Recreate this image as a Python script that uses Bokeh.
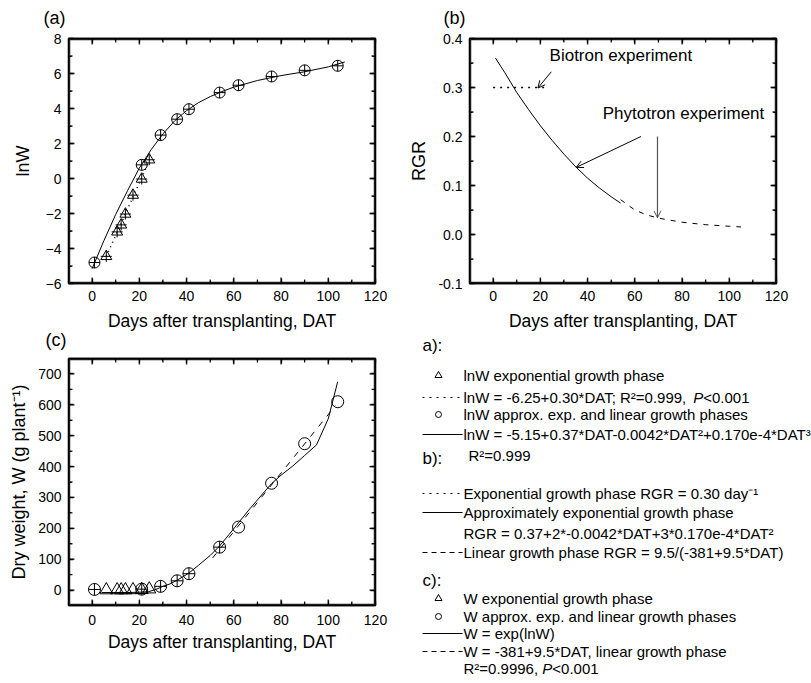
import math
from bokeh.plotting import figure
from bokeh.layouts import row, column
from bokeh.models import (Range1d, LinearAxis, SingleIntervalTicker, NumeralTickFormatter,
                          Arrow, OpenHead, Label)
from bokeh.embed import file_html
from bokeh.resources import INLINE
from bokeh.core.properties import value

FONT = "Liberation Sans"

# ---------------- data ----------------
# (a) lnW vs DAT
tri_dat = [6, 10.6, 12.3, 14.1, 17.3, 21, 24.2]
tri_lnw = [-4.45, -3.05, -2.65, -2.03, -0.95, -0.03, 1.07]
circ_dat = [1, 21, 29, 36, 41, 54, 62, 76, 90, 104]
circ_lnw = [-4.8, 0.78, 2.48, 3.39, 3.96, 4.91, 5.33, 5.83, 6.18, 6.44]
expfit_dat = [6, 24]
expfit_lnw = [-4.45, 0.95]
polyfit_dat = [0, 5, 10, 15, 20, 25, 30, 35, 40, 45, 50, 55, 60, 70, 80, 90, 100, 107]
polyfit_lnw = [-5.15, -3.55, -2.05, -0.7, 0.6, 1.65, 2.55, 3.3, 3.88, 4.33, 4.68, 4.97,
               5.22, 5.6, 5.88, 6.1, 6.38, 6.66]

# (b) RGR vs DAT
rgr_exp_dat = [0, 22.8]
rgr_exp = [0.30, 0.30]
rgr_poly_dat = [1, 5, 10, 15, 20, 25, 30, 35, 40, 45, 50, 54]
rgr_poly = [0.36, 0.33, 0.29, 0.255, 0.222, 0.192, 0.164, 0.138, 0.115, 0.095, 0.077, 0.064]
rgr_lin_dat = [54, 60, 65, 70, 80, 90, 100, 105]
rgr_lin = [0.071, 0.050, 0.040, 0.0334, 0.025, 0.020, 0.0168, 0.0154]

# (c) W vs DAT
w_tri = [0.01, 0.05, 0.07, 0.13, 0.39, 0.97, 2.9]
w_circ = [2, 3, 12, 30, 53, 139, 204, 346, 474, 610]
n_circ_with_bars = 6
wexp_dat = [4, 10, 15, 20, 24, 27, 30, 33, 36, 41, 45, 50, 54, 58, 62, 66, 70, 76, 80,
            85, 90, 95, 100, 104]
wexp = [-8, -8, -8, -7, -5, 2, 12, 20, 32, 55, 80, 112, 143, 180, 218, 256, 292, 345,
        372, 402, 436, 470, 555, 675]
wlin_dat = [51, 103]
wlin = [104, 597]

# annotations of (b)
biotron_text = "Biotron experiment"
phytotron_text = "Phytotron experiment"

# legend texts: (plain prefix, italic part, plain suffix)
legend_headers = ["a):", "b):", "c):"]
legend_kinds = ["triangle", "dot", "circle", "solid", "none",
                "dot", "solid", "none", "dash",
                "triangle", "circle", "solid", "dash", "none"]
legend_texts = [
    ("lnW exponential growth phase", "", ""),
    ("lnW = -6.25+0.30*DAT; R\u00b2=0.999, ", "P", "<0.001"),
    ("lnW approx. exp. and linear growth phases", "", ""),
    ("lnW = -5.15+0.37*DAT-0.0042*DAT\u00b2+0.170e-4*DAT\u00b3", "", ""),
    ("R\u00b2=0.999", "", ""),
    ("Exponential growth phase RGR = 0.30 day\u207b\u00b9", "", ""),
    ("Approximately exponential growth phase", "", ""),
    ("RGR = 0.37+2*-0.0042*DAT+3*0.170e-4*DAT\u00b2", "", ""),
    ("Linear growth phase RGR = 9.5/(-381+9.5*DAT)", "", ""),
    ("W exponential growth phase", "", ""),
    ("W approx. exp. and linear growth phases", "", ""),
    ("W = exp(lnW)", "", ""),
    ("W = -381+9.5*DAT, linear growth phase", "", ""),
    ("R\u00b2=0.9996, ", "P", "<0.001"),
]

# ---------------- layout / styles ----------------
LEG_FS = 15.0
legend_header_y = [15, 128, 250]
legend_row_y = [45, 67, 84, 104, 125, 163, 182, 203, 222, 268, 286, 303, 321, 338]
legend_row_indent = [0, 0, 0, 0, 5, 0, 0, 0, 0, 0, 0, 0, 0, 0]
# Arial / Liberation Sans advance widths (1/1000 em), for placing the italic P
ADV = {" ": 278, "=": 584, "-": 333, ".": 278, "+": 584, "*": 389, ";": 278, ",": 278,
       "\u00b2": 333, "l": 222, "n": 556, "W": 944, "D": 722, "A": 667, "T": 611,
       "R": 722, "P": 667}

TOP_SHIFT = 8        # top row starts 8 px above the page
BOTTOM_START = 314   # page y where the bottom row starts
TOP_H = 346
BOT_H = 369


def text_width(s, size):
    return sum(ADV.get(ch, 556) for ch in s) * size / 1000.0


def tick_values(lo, hi, step):
    n0 = math.ceil(lo / step - 1e-9)
    n1 = math.floor(hi / step + 1e-9)
    return [round(k * step, 10) for k in range(n0, n1 + 1)]


def style_axis(ax, show_labels=True):
    ax.major_tick_in = 5
    ax.major_tick_out = 0
    ax.minor_tick_in = 3
    ax.minor_tick_out = 0
    ax.axis_line_color = "black"
    ax.axis_line_width = 1.3
    ax.major_tick_line_color = "black"
    ax.major_tick_line_width = 1.3
    ax.minor_tick_line_color = "black"
    ax.minor_tick_line_width = 1.1
    ax.axis_label_text_font = FONT
    ax.axis_label_text_font_style = "normal"
    ax.axis_label_text_font_size = "18px"
    ax.axis_label_text_color = "black"
    ax.major_label_text_font = FONT
    ax.major_label_text_font_size = "14px" if show_labels else "1px"
    ax.major_label_text_color = "black" if show_labels else None
    if not show_labels:
        ax.major_label_standoff = 0


def add_frame_box(p, xr, yr, xstep, ystep, fw, fh):
    # frame box and inward ticks, kept just inside the frame edges
    ux = (xr[1] - xr[0]) / fw
    uy = (yr[1] - yr[0]) / fh
    p.quad(left=[xr[0] + 1.0 * ux], right=[xr[1] - 1.0 * ux],
           bottom=[yr[0] + 1.0 * uy], top=[yr[1] - 1.0 * uy], fill_color=None,
           line_color="#222222", line_width=1.5)
    xmaj = tick_values(xr[0], xr[1], xstep)
    xmin = [v for v in tick_values(xr[0], xr[1], xstep / 2) if v not in xmaj]
    ymaj = tick_values(yr[0], yr[1], ystep)
    ymin = [v for v in tick_values(yr[0], yr[1], ystep / 2) if v not in ymaj]
    for xs, size in ((xmaj, 5), (xmin, 3)):
        off = 1.0 + size / 2.0
        for yedge in (yr[0] + off * uy, yr[1] - off * uy):
            p.scatter(xs, [yedge] * len(xs), marker="dash", angle=math.pi / 2, size=size,
                      line_color="#222222", line_width=1.3)
    for ys, size in ((ymaj, 5), (ymin, 3)):
        off = 1.0 + size / 2.0
        for xedge in (xr[0] + off * ux, xr[1] - off * ux):
            p.scatter([xedge] * len(ys), ys, marker="dash", angle=0, size=size,
                      line_color="#222222", line_width=1.3)


def make_panel(tag, tag_offset, tag_standoff, width, height, borders, xr, yr, yint,
               ylabel, ystandoff, xstandoffs, yfmt=None):
    bl, br, bt, bb = borders
    p = figure(width=width, height=height, x_range=Range1d(*xr), y_range=Range1d(*yr),
               output_backend="svg", toolbar_location=None,
               min_border_left=bl, min_border_right=br, min_border_top=bt,
               min_border_bottom=bb, background_fill_color=None,
               border_fill_color=None)
    p.frame_align = False
    p.grid.visible = False
    p.outline_line_color = "black"
    p.outline_line_width = 1.3
    xt = SingleIntervalTicker(interval=20, num_minor_ticks=2)
    yt = SingleIntervalTicker(interval=yint, num_minor_ticks=2)
    p.xaxis.ticker = xt
    p.yaxis.ticker = yt
    if yfmt:
        p.yaxis.formatter = NumeralTickFormatter(format=yfmt)
    for ax in p.xaxis + p.yaxis:
        style_axis(ax)
    p.xaxis.axis_label = "Days after transplanting, DAT"
    p.xaxis.axis_label_text_font_size = "17.5px"
    p.xaxis.major_label_standoff = xstandoffs[0]
    p.xaxis.axis_label_standoff = xstandoffs[1]
    p.yaxis.axis_label = ylabel
    p.yaxis.major_label_standoff = 7
    p.yaxis.axis_label_standoff = ystandoff
    ra = LinearAxis(ticker=SingleIntervalTicker(interval=yint, num_minor_ticks=2))
    style_axis(ra, False)
    p.add_layout(ra, "right")
    ta = LinearAxis(ticker=SingleIntervalTicker(interval=20, num_minor_ticks=2))
    style_axis(ta, False)
    p.add_layout(ta, "above")
    add_frame_box(p, xr, yr, 20, yint, width - bl - br, height - bt - bb)
    p.title.text = tag
    p.title.align = "left"
    p.title.offset = tag_offset
    p.title.standoff = tag_standoff
    p.title.text_font = FONT
    p.title.text_font_size = "18px"
    p.title.text_font_style = "normal"
    p.title.text_color = "black"
    return p


# ---------------- panel (a) ----------------
pa = make_panel("(a)", -25, 21, 405, TOP_H, (68, 30, 38 + TOP_SHIFT, 55), (-10, 120),
                (-6, 8), 2, "lnW", 10, (7, 7))
pa.line(polyfit_dat, polyfit_lnw, line_color="black", line_width=1)
pa.line(expfit_dat, expfit_lnw, line_color="black", line_width=1.5, line_dash="1 4")
pa.scatter(tri_dat, tri_lnw, marker="triangle", size=11, fill_color=None,
           line_color="black", line_width=1)
pa.scatter(tri_dat, tri_lnw, marker="cross", size=11, line_color="black", line_width=1)
pa.scatter(circ_dat, circ_lnw, marker="circle_cross", size=11, fill_color=None,
           line_color="black", line_width=1)

# ---------------- panel (b) ----------------
pb = make_panel("(b)", -26, 21, 406, TOP_H, (64, 35, 38 + TOP_SHIFT, 55), (-10, 120),
                (-0.1, 0.4), 0.1, "RGR", 6, (7, 7), yfmt="0.0")
pb.line(rgr_exp_dat, rgr_exp, line_color="black", line_width=1.5, line_dash="2 5")
pb.line(rgr_poly_dat, rgr_poly, line_color="black", line_width=1)
pb.line(rgr_lin_dat, rgr_lin, line_color="black", line_width=1, line_dash="5 6")
pb.add_layout(Label(x=23.9, y=0.365, text=biotron_text, text_font=FONT,
                    text_font_size="17px", text_baseline="middle", text_color="black"))
pb.add_layout(Label(x=46.4, y=0.246, text=phytotron_text, text_font=FONT,
                    text_font_size="17px", text_baseline="middle", text_color="black"))
pb.add_layout(Arrow(end=OpenHead(size=7, line_width=1, line_color="black"),
                    x_start=24.6, y_start=0.332, x_end=19, y_end=0.299,
                    line_color="black", line_width=1))
pb.add_layout(Arrow(end=OpenHead(size=7, line_width=1, line_color="black"),
                    x_start=62.6, y_start=0.200, x_end=35.2, y_end=0.137,
                    line_color="black", line_width=1))
pb.add_layout(Arrow(end=OpenHead(size=7, line_width=1, line_color="#555555"),
                    x_start=69.6, y_start=0.200, x_end=69.6, y_end=0.034,
                    line_color="#555555", line_width=1.2))

# ---------------- panel (c) ----------------
pc = make_panel("(c)", -23, 18, 405, BOT_H, (68, 30, 358 - BOTTOM_START, 78), (-10, 120),
                (-50, 750), 100, "Dry weight, W (g plant\u207b\u00b9)", 6, (9, 4))
pc.line(wexp_dat, wexp, line_color="black", line_width=1)
pc.line(wlin_dat, wlin, line_color="black", line_width=1, line_dash="6 7")
pc.scatter(tri_dat, w_tri, marker="triangle", size=13, fill_color=None,
           line_color="black", line_width=1)
pc.scatter(circ_dat[:n_circ_with_bars], w_circ[:n_circ_with_bars], marker="circle_cross",
           size=12, fill_color=None, line_color="black", line_width=1)
pc.scatter(circ_dat[n_circ_with_bars:], w_circ[n_circ_with_bars:], marker="circle",
           size=12, fill_color=None, line_color="black", line_width=1)

# ---------------- legend panel ----------------
leg_off = 330 - BOTTOM_START
pl = figure(width=406, height=BOT_H, x_range=Range1d(0, 406),
            y_range=Range1d(BOT_H - leg_off, -leg_off),
            output_backend="svg", toolbar_location=None, min_border=0,
            x_axis_type=None, y_axis_type=None,
            background_fill_color=None, border_fill_color=None)
pl.frame_align = False
pl.grid.visible = False
pl.outline_line_color = None

pl.text([17] * len(legend_headers), legend_header_y, text=legend_headers,
        text_font=value(FONT), text_font_size=value("17px"), text_baseline="middle",
        text_color="black")
fs = f"{LEG_FS}px"
for (pre, ital, post), y, ind in zip(legend_texts, legend_row_y, legend_row_indent):
    x0 = 58 + ind
    pl.text([x0], [y], text=[pre], text_font=value(FONT), text_font_size=value(fs),
            text_baseline="middle", text_color="black")
    if ital:
        x1 = x0 + text_width(pre, LEG_FS)
        pl.text([x1], [y], text=[ital], text_font=value(FONT), text_font_size=value(fs),
                text_font_style="italic", text_baseline="middle", text_color="black")
        x2 = x1 + text_width(ital, LEG_FS)
        pl.text([x2], [y], text=[post], text_font=value(FONT), text_font_size=value(fs),
                text_baseline="middle", text_color="black")

dash_map = {"dot": "2 5", "solid": "solid", "dash": "5 4"}
for kind, y in zip(legend_kinds, legend_row_y):
    if kind in dash_map:
        pl.line([17, 57], [y, y], line_color="black", line_width=1.2 if kind == "dot" else 1,
                line_dash=dash_map[kind])
    elif kind == "triangle":
        pl.scatter([33], [y], marker="triangle", size=7, fill_color=None, line_color="black")
    elif kind == "circle":
        pl.scatter([33], [y], marker="circle", size=6, fill_color=None, line_color="black")

top = row(pa, pb, margin=(-TOP_SHIFT, 0, 0, 0))
bottom = row(pc, pl, margin=(BOTTOM_START - (TOP_H - TOP_SHIFT), 0, 0, 0))
layout = column(top, bottom)
open("out.html", "w").write(file_html(layout, INLINE))
